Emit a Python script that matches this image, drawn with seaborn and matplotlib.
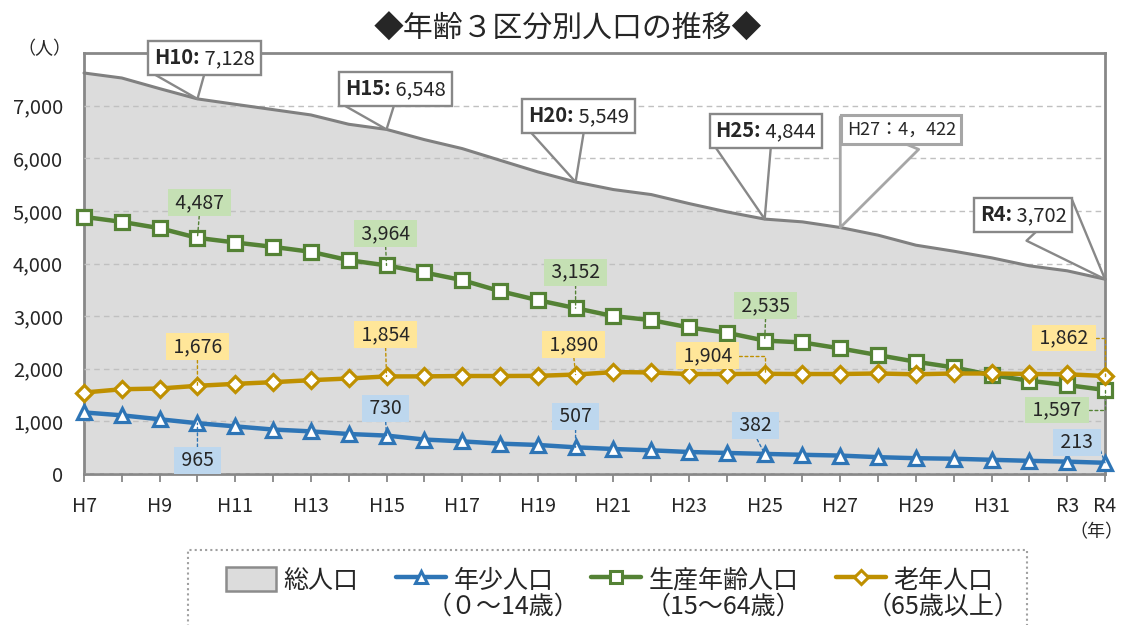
import numpy as np
import pandas as pd
import matplotlib
matplotlib.use("Agg")
import matplotlib.pyplot as plt
import seaborn as sns
from matplotlib.offsetbox import AnnotationBbox, HPacker, TextArea
from matplotlib.lines import Line2D
from matplotlib.patches import Patch, Rectangle

# ---------------- data ----------------
years = ["H7", "H8", "H9", "H10", "H11", "H12", "H13", "H14", "H15", "H16",
         "H17", "H18", "H19", "H20", "H21", "H22", "H23", "H24", "H25", "H26",
         "H27", "H28", "H29", "H30", "H31", "R2", "R3", "R4"]
total = [7620, 7525, 7323, 7128, 7025, 6924, 6823, 6646, 6548, 6354,
         6184, 5962, 5741, 5549, 5405, 5310, 5139, 4981, 4844, 4791,
         4684, 4538, 4348, 4234, 4108, 3956, 3861, 3702]
young = [1170, 1115, 1040, 965, 905, 845, 810, 760, 730, 655,
         620, 577, 552, 507, 475, 450, 418, 400, 382, 365,
         350, 320, 300, 290, 270, 250, 235, 213]
working = [4886, 4791, 4671, 4487, 4399, 4316, 4222, 4063, 3964, 3829,
           3684, 3475, 3304, 3152, 3000, 2924, 2785, 2684, 2535, 2500,
           2386, 2259, 2133, 2025, 1880, 1772, 1690, 1597]
aged = [1548, 1611, 1624, 1676, 1713, 1745, 1783, 1815, 1854, 1855,
        1862, 1862, 1865, 1890, 1936, 1930, 1900, 1900, 1904, 1900,
        1900, 1910, 1895, 1910, 1910, 1900, 1895, 1862]
labeled_years = ["H10", "H15", "H20", "H25", "R4"]
h27_label = "H27：4，422"
title = "◆年齢３区分別人口の推移◆"
legend_names = ["総人口", "年少人口", "生産年齢人口", "老年人口"]
legend_sub = ["", "（０～14歳）", "（15～64歳）", "（65歳以上）"]

df = pd.DataFrame({"idx": np.arange(len(years)), "year": years, "total": total,
                   "young": young, "working": working, "aged": aged})

# ---------------- style ----------------
sns.set_style("white")
plt.rcParams['font.family'] = ['Noto Sans CJK JP', 'DejaVu Sans']

C_TOTAL_FILL = "#dcdcdc"
C_TOTAL_LINE = "#808080"
C_BLUE = "#2e75b6"
C_GREEN = "#548235"
C_GOLD = "#bf9000"
BG_BLUE = "#bdd7ee"
BG_GREEN = "#c5e0b4"
BG_GOLD = "#ffe699"
SPINE = "#888888"

W, H = 1121, 625
fig = plt.figure(figsize=(W / 100, H / 100), dpi=100)
ax = fig.add_axes([84 / W, 1 - 474 / H, (1105 - 84) / W, (474 - 53) / H])

# total area
ax.fill_between(df["idx"], df["total"], 0, color=C_TOTAL_FILL, zorder=1, lw=0)
sns.lineplot(data=df, x="idx", y="total", ax=ax, color=C_TOTAL_LINE, lw=2.2,
             zorder=3, clip_on=False)

line_kw = dict(lw=3.2, markerfacecolor="white", markeredgewidth=2.3, clip_on=False)
sns.lineplot(data=df, x="idx", y="young", ax=ax, color=C_BLUE, marker="^",
             markersize=10, markeredgecolor=C_BLUE, zorder=4, **line_kw)
sns.lineplot(data=df, x="idx", y="working", ax=ax, color=C_GREEN, marker="s",
             markersize=9.5, markeredgecolor=C_GREEN, zorder=5, **line_kw)
sns.lineplot(data=df, x="idx", y="aged", ax=ax, color=C_GOLD, marker="D",
             markersize=8.5, markeredgecolor=C_GOLD, zorder=6, **line_kw)

ax.set_xlim(0, len(years) - 1)
ax.set_ylim(0, 8000)
ax.set_xlabel("")
ax.set_ylabel("")
ax.set_yticks(np.arange(0, 8000, 1000))
ax.set_yticklabels([f"{v:,}" for v in range(0, 8000, 1000)])
ax.set_xticks(df["idx"])
ax.set_xticklabels([y if (i % 2 == 0 or i == len(years) - 1) else ""
                    for i, y in enumerate(years)])
ax.tick_params(axis="x", length=6, width=1.3, color=SPINE, pad=10, labelsize=14,
               direction="out", bottom=True)
ax.tick_params(axis="y", length=0, pad=15, labelsize=14.5)
ax.yaxis.grid(True, linestyle=(0, (4, 3)), color="#c0c0c0", lw=1.0, zorder=2)
ax.xaxis.grid(False)
ax.set_axisbelow(False)
for s in ax.spines.values():
    s.set_color(SPINE)
    s.set_linewidth(2.0)
    s.set_visible(True)

# ---------------- callouts for total ----------------
# offsets in pixels (box centre relative to point) and wedge start inside the box
callout_pos = {"H10": ((7, 41), (0.28, 0.3)),
               "H15": ((9, 40), (0.27, 0.3)),
               "H20": ((3, 66), (0.29, 0.3)),
               "H25": ((1, 88), (0.27, 0.3)),
               "R4": ((-82, 64), (0.8, 0.3))}
FS_CALL = 14.5
for yname in labeled_years:
    i = years.index(yname)
    off, rel = callout_pos[yname]
    box = HPacker(children=[TextArea(f"{yname}:", textprops=dict(fontweight="bold", fontsize=FS_CALL)),
                            TextArea(f" {total[i]:,}", textprops=dict(fontsize=FS_CALL))],
                  align="baseline", pad=0, sep=0)
    ab = AnnotationBbox(box, (i, total[i]), xybox=off, xycoords="data",
                        boxcoords="offset pixels", box_alignment=(0.5, 0.5),
                        pad=0.38, fontsize=FS_CALL,
                        bboxprops=dict(ec=SPINE, lw=1.7, fc="white", boxstyle="square"),
                        arrowprops=dict(arrowstyle="wedge,tail_width=1.6,shrink_factor=0.5",
                                        fc="white", ec=SPINE, lw=1.7, mutation_scale=20,
                                        relpos=rel, patchA=None, shrinkA=0, shrinkB=0),
                        zorder=10, annotation_clip=False)
    ax.add_artist(ab)

i27 = years.index("H27")
ab = AnnotationBbox(TextArea(h27_label, textprops=dict(fontsize=13)), (i27, total[i27]),
                    xybox=(61, 98), xycoords="data", boxcoords="offset pixels",
                    box_alignment=(0.5, 0.5), pad=0.5, fontsize=13,
                    bboxprops=dict(ec="#a6a6a6", lw=2.2, fc="white", boxstyle="square"),
                    arrowprops=dict(arrowstyle="wedge,tail_width=2.2,shrink_factor=0.5",
                                    fc="white", ec="#a6a6a6", lw=2.0, mutation_scale=20,
                                    relpos=(0.3, 0.3), patchA=None, shrinkA=0, shrinkB=0),
                    zorder=10, annotation_clip=False)
ax.add_artist(ab)

# ---------------- data labels ----------------
label_specs = [
    (working, C_GREEN, BG_GREEN, {
        "H10": (2, 35, (0.5, 0.0), "arc3"),
        "H15": (-1, 32, (0.5, 0.0), "arc3"),
        "H20": (0, 36, (0.5, 0.0), "arc3"),
        "H25": (1, 35, (0.5, 0.0), "arc3"),
        "R4": (-48, -20, (1.0, 0.5), "angle,angleA=0,angleB=90,rad=0")}),
    (aged, C_GOLD, BG_GOLD, {
        "H10": (0, 39, (0.5, 0.0), "arc3"),
        "H15": (-1, 42, (0.5, 0.0), "arc3"),
        "H20": (-2, 30, (0.5, 0.0), "arc3"),
        "H25": (-57, 18, (1.0, 0.5), "angle,angleA=0,angleB=90,rad=0"),
        "R4": (-41, 38, (1.0, 0.5), "angle,angleA=0,angleB=90,rad=0")}),
    (young, C_BLUE, BG_BLUE, {
        "H10": (0, -37, (0.5, 1.0), "arc3"),
        "H15": (-1, 27, (0.5, 0.0), "arc3"),
        "H20": (0, 31, (0.5, 0.0), "arc3"),
        "H25": (-9, 28, (0.5, 0.0), "arc3"),
        "R4": (-28, 20, (1.0, 0.5), "arc3")}),
]
for series, col, bg, spec in label_specs:
    for yname in labeled_years:
        i = years.index(yname)
        dx, dy, rel, conn = spec[yname]
        ax.annotate(f" {series[i]:,} ", xy=(i, series[i]), xytext=(dx, dy),
                    textcoords="offset pixels", ha="center", va="center",
                    fontsize=14,
                    bbox=dict(boxstyle="square,pad=0.15", fc=bg, ec="none"),
                    arrowprops=dict(arrowstyle="-", color=col, lw=1.0,
                                    linestyle=(0, (2, 2)), shrinkA=0, shrinkB=0,
                                    relpos=rel, connectionstyle=conn),
                    zorder=9, annotation_clip=False)

# ---------------- texts ----------------
fig.text(568 / W, 1 - 29 / H, title, ha="center", va="center", fontsize=21.5)
fig.text(44 / W, 1 - 49 / H, "（人）", ha="center", va="center", fontsize=13)
fig.text(1096 / W, 1 - 532 / H, "（年）", ha="center", va="center", fontsize=13)

# ---------------- legend ----------------
handles = [
    Patch(fc=C_TOTAL_FILL, ec="#8c8c8c", lw=1.8),
    Line2D([], [], color=C_BLUE, lw=3.2, marker="^", ms=9, mfc="white", mec=C_BLUE, mew=2.2),
    Line2D([], [], color=C_GREEN, lw=3.2, marker="s", ms=8.5, mfc="white", mec=C_GREEN, mew=2.2),
    Line2D([], [], color=C_GOLD, lw=3.2, marker="D", ms=7.5, mfc="white", mec=C_GOLD, mew=2.2),
]
FS_LEG = 18
leg = fig.legend(handles, legend_names, loc="upper left", ncol=4,
                 bbox_to_anchor=(226 / W, 1 - 567 / H), frameon=False,
                 fontsize=FS_LEG, handlelength=2.0, handleheight=1.1,
                 handletextpad=0.3, columnspacing=1.5, borderpad=0,
                 borderaxespad=0)
fig.add_artist(Rectangle((188 / W, -0.05), (1027 - 188) / W, (1 - 550 / H) + 0.05,
                         transform=fig.transFigure, fill=False, ec="#a0a0a0",
                         lw=1.5, linestyle=(0, (1, 1.5))))

fig.canvas.draw()
renderer = fig.canvas.get_renderer()
for t, sub in zip(leg.get_texts(), legend_sub):
    if not sub:
        continue
    bb = t.get_window_extent(renderer)
    cx = (bb.x0 + bb.x1) / 2
    fig.text(cx / W, 1 - 607 / H, sub, ha="center", va="center", fontsize=FS_LEG)

fig.savefig("out.png", dpi=100)
